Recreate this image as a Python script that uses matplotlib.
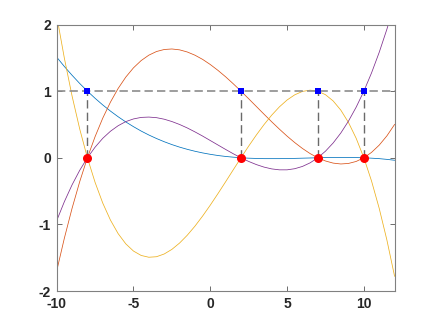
import numpy as np
import matplotlib
matplotlib.use('Agg')
import matplotlib.pyplot as plt

# interpolation nodes
nodes = [-8, 2, 7, 10]
node_zero = [0, 0, 0, 0]
node_one = [1, 1, 1, 1]

# sample positions along x
x = np.arange(-10, 12.01, 0.5)

# basis curves at the sample positions
blue = [1.511, 1.370, 1.239, 1.115, 1.000, 0.893, 0.793, 0.701, 0.616, 0.538,
        0.467, 0.401, 0.342, 0.289, 0.241, 0.198, 0.160, 0.127, 0.098, 0.073,
        0.052, 0.034, 0.020, 0.009, 0.000, -0.006, -0.010, -0.013, -0.013, -0.013,
        -0.011, -0.009, -0.006, -0.003, 0.000, 0.003, 0.004, 0.005, 0.005, 0.003,
        0.000, -0.006, -0.013, -0.024, -0.037]
orange = [-1.700, -1.207, -0.760, -0.358, 0.000, 0.317, 0.595, 0.835, 1.040, 1.211,
          1.350, 1.459, 1.540, 1.595, 1.625, 1.633, 1.620, 1.588, 1.540, 1.477,
          1.400, 1.312, 1.215, 1.110, 1.000, 0.886, 0.770, 0.654, 0.540, 0.430,
          0.325, 0.228, 0.140, 0.063, 0.000, -0.048, -0.080, -0.093, -0.085, -0.055,
          0.000, 0.081, 0.190, 0.329, 0.500]
yellow = [2.133, 1.495, 0.929, 0.432, 0.000, -0.369, -0.680, -0.935, -1.138, -1.292,
          -1.400, -1.466, -1.493, -1.485, -1.444, -1.375, -1.280, -1.163, -1.027, -0.875,
          -0.711, -0.538, -0.360, -0.179, 0.000, 0.175, 0.342, 0.498, 0.640, 0.764,
          0.867, 0.945, 0.996, 1.015, 1.000, 0.947, 0.853, 0.715, 0.529, 0.292,
          0.000, -0.349, -0.760, -1.235, -1.778]
purple = [-0.944, -0.659, -0.407, -0.188, 0.000, 0.159, 0.292, 0.398, 0.481, 0.543,
          0.583, 0.606, 0.611, 0.602, 0.579, 0.544, 0.500, 0.448, 0.389, 0.326,
          0.259, 0.192, 0.125, 0.060, 0.000, -0.055, -0.102, -0.140, -0.167, -0.181,
          -0.181, -0.164, -0.130, -0.076, 0.000, 0.099, 0.222, 0.372, 0.551, 0.760,
          1.000, 1.274, 1.583, 1.930, 2.315]

x_ticks = [-10, -5, 0, 5, 10]
y_ticks = [-2, -1, 0, 1, 2]

plt.rcParams['font.family'] = ['Liberation Sans', 'DejaVu Sans']
plt.rcParams['lines.scale_dashes'] = False
plt.rcParams['axes.unicode_minus'] = False

fig = plt.figure(figsize=(4.36, 3.27), dpi=100)
ax = fig.add_axes([0.13, 0.11, 0.775, 0.815])

lw = 0.55
ax.plot(x, blue, color=(0, 0.447, 0.741), lw=lw)
ax.plot(x, orange, color=(0.85, 0.325, 0.098), lw=lw)
ax.plot(x, yellow, color=(0.929, 0.694, 0.125), lw=lw)
ax.plot(x, purple, color=(0.494, 0.184, 0.556), lw=lw)

# dashed guides
ax.plot([-10, 12], [1, 1], color='#8c8c8c', lw=1.2, dashes=(6, 3))
for xn in nodes:
    ax.plot([xn, xn], [0, 1], color='#6a6a6a', lw=1.0, dashes=(6, 3))

ax.plot(nodes, node_zero, 'o', color='red', markersize=6.5, markeredgewidth=0)
ax.plot(nodes, node_one, 's', color='blue', markersize=4, markeredgewidth=0)

ax.set_xlim(-10, 12)
ax.set_ylim(-2, 2)
ax.set_xticks(x_ticks)
ax.set_yticks(y_ticks)
ax.tick_params(direction='in', top=True, right=True, length=3.5, width=0.6,
               colors='#555555', labelcolor='#262626', labelsize=10, pad=4)
for lab in ax.get_xticklabels() + ax.get_yticklabels():
    lab.set_fontweight('bold')
for sp in ax.spines.values():
    sp.set_color('#808080')
    sp.set_linewidth(0.8)

fig.savefig('out.png', dpi=100)
